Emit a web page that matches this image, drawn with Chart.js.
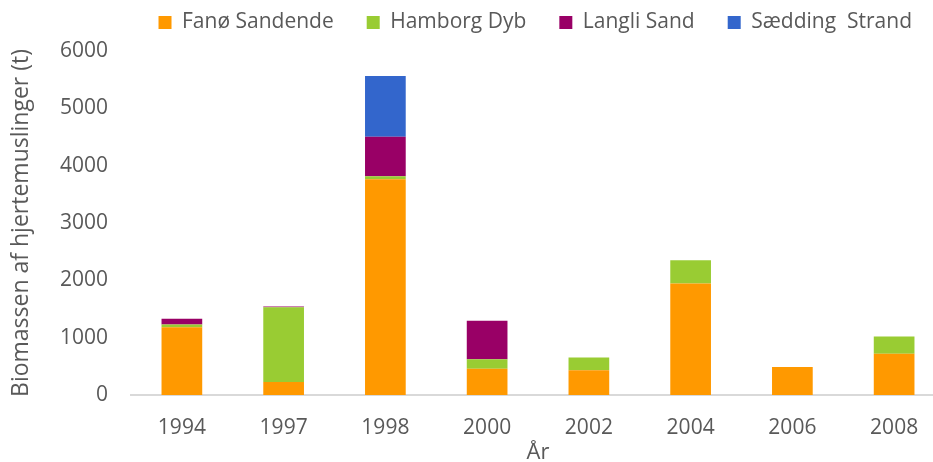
<!DOCTYPE html>
<html>
<head>
<meta charset="utf-8">
<script src="https://cdn.jsdelivr.net/npm/chart.js@4"></script>
<style>
  html, body { margin: 0; padding: 0; overflow: hidden; background: #fff; }
  #wrap { width: 945px; height: 462px; }
</style>
</head>
<body>
<div id="wrap"><canvas id="diagramCanvas" width="945" height="462"></canvas></div>
<script>
// Years on the x axis
const years = ['1994', '1997', '1998', '2000', '2002', '2004', '2006', '2008'];

// Biomass (t) per area
const fanoSandende = [1180, 225, 3765, 460, 430, 1945, 490, 720];
const hamborgDyb = [50, 1305, 50, 165, 225, 405, 0, 300];
const langliSand = [100, 15, 690, 670, 0, 0, 0, 0];
const saeddingStrand = [0, 0, 1060, 0, 0, 0, 0, 0];

const seriesNames = ['Fanø Sandende', 'Hamborg Dyb', 'Langli Sand', 'Sædding  Strand'];
const seriesColors = ['#FF9900', '#99CC33', '#990066', '#3366CC'];
const seriesValues = [fanoSandende, hamborgDyb, langliSand, saeddingStrand];

const textColor = '#595959';
const fontFamily = '"Open Sans", sans-serif';

const datasets = [];
for (let i = 0; i < seriesNames.length; i++) {
    datasets.push({
        label: seriesNames[i],
        data: seriesValues[i],
        backgroundColor: seriesColors[i],
        borderWidth: 0,
        barPercentage: 0.4,
        categoryPercentage: 1.0
    });
}

// Leave some extra room between the legend and the plot
const legendGap = {
    id: 'legendGap',
    beforeInit(chart) {
        const fit = chart.legend.fit;
        chart.legend.fit = function () {
            fit.bind(chart.legend)();
            this.height += 8;
        };
    }
};

const ctx = document.getElementById('diagramCanvas').getContext('2d');
new Chart(ctx, {
    type: 'bar',
    data: {
        labels: years,
        datasets: datasets
    },
    plugins: [legendGap],
    options: {
        responsive: false,
        animation: false,
        layout: { padding: { left: 8, right: 0, top: -21, bottom: 0 } },
        plugins: {
            legend: {
                position: 'top',
                align: 'end',
                labels: {
                    boxWidth: 13,
                    boxHeight: 13,
                    padding: 33,
                    color: textColor,
                    font: { family: fontFamily, size: 21 }
                }
            },
            tooltip: { enabled: false }
        },
        scales: {
            x: {
                stacked: true,
                grid: { display: false, drawTicks: false },
                border: { display: true, color: '#d9d9d9', width: 2 },
                ticks: {
                    color: textColor,
                    padding: 20,
                    font: { family: fontFamily, size: 21 }
                },
                title: {
                    display: true,
                    text: 'År',
                    color: textColor,
                    padding: { top: 0, bottom: -4 },
                    font: { family: fontFamily, size: 22 }
                },
                afterFit(scale) {
                    scale.height = 67;
                }
            },
            y: {
                stacked: true,
                min: 0,
                max: 6000,
                grid: { display: false, drawTicks: false },
                border: { display: false },
                ticks: {
                    stepSize: 1000,
                    color: textColor,
                    padding: 23,
                    font: { family: fontFamily, size: 21 },
                    callback: value => String(value)
                },
                title: {
                    display: true,
                    text: 'Biomassen af hjertemuslinger (t)',
                    color: textColor,
                    padding: { top: 0, bottom: 1 },
                    font: { family: fontFamily, size: 23 }
                },
                afterFit(scale) {
                    scale.width = 123;
                }
            }
        }
    }
});
</script>
</body>
</html>
